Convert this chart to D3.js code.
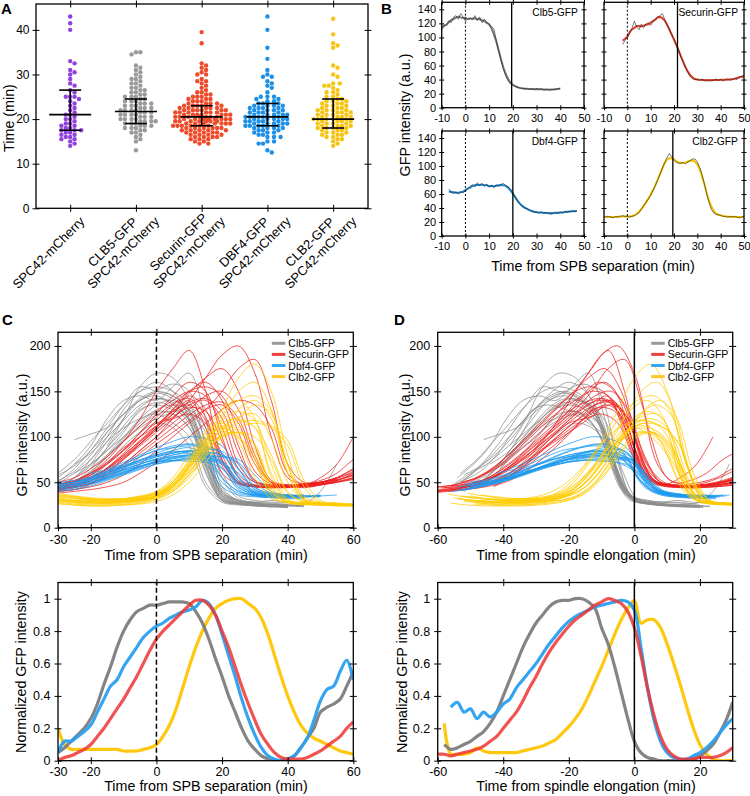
<!DOCTYPE html>
<html><head><meta charset="utf-8">
<script src="https://cdn.jsdelivr.net/npm/d3@7"></script>
<style>body{margin:0;background:#fff}</style>
</head><body><svg id="c" width="750" height="796"></svg>
<script>
// ================= DATA =================
// Panel A
const catLabels=[["SPC42-mCherry"],["CLB5-GFP","SPC42-mCherry"],["Securin-GFP","SPC42-mCherry"],["DBF4-GFP","SPC42-mCherry"],["CLB2-GFP","SPC42-mCherry"]];
const catColors=["#9142dc","#9a9a9a","#ee4b2b","#1c8fe6","#f6c514"];
const medians=[21,21.7,20.5,20.5,20];
const q1=[17.5,19,18.5,18.5,18];
const q3=[26.5,24.5,23,23.5,24.5];
const timesSPC42=[43,41.5,40,33,32.5,31,30.5,30,29,28,27.5,26.5,26,25,25,25,24.5,24,23.5,23,22.5,22,21.5,21,21,20.5,20,20,19.5,19,19,18.5,18.5,18,18,17.5,17.5,17.5,17,17,16.5,16.5,16,16,15.5,15.5,15,14.5,14];
const timesCLB5=[35,35,34.5,32,31.5,31,30.5,30,29.5,29,29,28.5,28,28,27.5,27,27,26.5,26.5,26,26,25.5,25.5,25,25,25,24.5,24.5,24,24,24,23.5,23.5,23.5,23,23,23,22.5,22.5,22.5,22,22,22,22,21.5,21.5,21.5,21,21,21,21,20.5,20.5,20.5,20,20,20,20,19.5,19.5,19.5,19.5,19,19,19,18.5,18.5,18.5,18,18,18,17.5,17.5,17,17,16.5,16,15.5,15,13];
const timesSecurin=[39.5,37,32.5,32,31.5,31,30.5,30,30,29,28.5,28.5,28,27.5,27,26.5,26,26,25.5,25.5,25,25,25,24.5,24.5,24.5,24,24,24,23.5,23.5,23.5,23.5,23,23,23,23,23,22.5,22.5,22.5,22.5,22.5,22,22,22,22,22,22,21.5,21.5,21.5,21.5,21.5,21.5,21,21,21,21,21,21,21,20.5,20.5,20.5,20.5,20.5,20.5,20.5,20,20,20,20,20,20,20,20,19.5,19.5,19.5,19.5,19.5,19.5,19.5,19,19,19,19,19,19,19,18.5,18.5,18.5,18.5,18.5,18.5,18,18,18,18,18,18,17.5,17.5,17.5,17.5,17.5,17,17,17,17,17,16.5,16.5,16.5,16.5,16,16,16,16,15.5,15.5,15.5,15,15,14.5,14.5];
const timesDBF4=[43,40,36,33.5,31,30,29.5,29.5,28.5,28,27.5,27,26,25,25,25,24.5,24.5,24,24,23.5,23.5,23.5,23,23,23,23,22.5,22.5,22.5,22.5,22,22,22,22,21.5,21.5,21.5,21.5,21,21,21,21,21,20.5,20.5,20.5,20.5,20.5,20,20,20,20,20,19.5,19.5,19.5,19.5,19.5,19,19,19,19,19,18.5,18.5,18.5,18.5,18.5,18,18,18,18,17.5,17.5,17.5,17,17,17,16.5,16.5,16,16,16,15,15,14.5,14.5,13,12.5];
const timesCLB2=[42.5,39,37,36.5,36,32,31.5,30,29.5,28,28,27.5,27.5,27,26.5,26,26,25.5,25,25,24.5,24.5,24,24,24,23.5,23.5,23.5,23,23,23,22.5,22.5,22.5,22,22,22,22,21.5,21.5,21.5,21.5,21,21,21,21,20.5,20.5,20.5,20.5,20,20,20,20,20,19.5,19.5,19.5,19.5,19,19,19,19,18.5,18.5,18.5,18.5,18,18,18,18,17.5,17.5,17.5,17,17,17,16.5,16.5,16.5,16,16,15.5,15.5,15,14.5,14];
const timesA=[timesSPC42,timesCLB5,timesSecurin,timesDBF4,timesCLB2];
const yTicksA=[0,10,20,30,40];

// Panel B (single cells, 1-min frames)
const bNames=["Clb5-GFP","Securin-GFP","Dbf4-GFP","Clb2-GFP"];
const bStart=[-10,-2,-7,-10];
const bElong=[19.5,21.5,20,19.5];
const clb5Raw=[110,116,118,124,121,129,131,126,134,129,123,126,128,125,131,124,129,121,126,122,118,116,112,96,80,68,55,45,38,34,32,30,29,28,27,27,27,26,27,26,27,26,27,25,26,26,25,26,26,27,28];
const securinRaw=[90,96,100,106,113,123,115,111,119,114,119,121,117,123,126,129,131,134,126,118,111,104,98,90,82,72,64,56,50,44,41,40,40,39,41,38,39,40,38,39,41,39,40,38,40,41,39,40,42,40,44,45,46];
const dbf4Raw=[67,62,61,63,60,63,62,64,68,71,73,70,76,72,75,71,74,70,72,69,73,71,74,75,72,70,67,62,55,49,45,42,40,39,37,35,34,34,33,34,32,34,33,31,33,34,32,34,33,35,34,35,36,35,36];
const clb2Raw=[28,27,28,27,26,28,27,28,29,28,28,27,28,29,31,33,38,43,48,53,58,65,72,80,88,97,105,112,118,113,108,105,104,104,105,103,106,108,110,110,106,98,88,75,60,48,38,33,31,30,30,28,28,27,28,27,28,27,26,27,28];
const bRaw=[clb5Raw,securinRaw,dbf4Raw,clb2Raw];
const bColors=["#7a7a7a","#e0402a","#1f86d0","#f2c200"];
const bXTicks=[-10,0,10,20,30,40,50];
const bYTicks=[0,20,40,60,80,100,120,140];

// Panels C/D top: individual traces sampled every 5 min (time from SPB separation)
const traceTimes=[-35,-30,-25,-20,-15,-10,-5,0,5,10,15,20,25,30,35,40,45,50,55,60,65];
const n=null;
const clb5Traces=[
[n,n,97,103,110,125,140,150,158,150,90,35,27,25,24,23,n,n,n,n,n],
[n,50,65,85,110,135,155,150,145,130,85,38,28,26,25,24,n,n,n,n,n],
[n,45,55,75,100,130,150,160,150,120,60,30,26,24,23,22,n,n,n,n,n],
[n,55,70,90,120,140,145,140,155,170,120,45,30,27,25,25,24,n,n,n,n],
[n,n,n,60,80,100,120,135,140,125,70,32,27,25,24,24,23,n,n,n,n],
[n,n,60,75,95,110,120,125,115,100,50,30,26,25,24,22,n,n,n,n,n],
[n,48,60,70,85,100,115,130,135,130,110,55,32,28,26,25,25,n,n,n,n],
[n,n,n,70,95,120,140,145,135,120,80,36,30,28,27,26,n,n,n,n,n],
[n,40,50,65,80,95,110,120,125,110,75,38,30,28,30,28,27,n,n,n,n],
[n,n,n,n,90,120,155,170,165,140,95,40,30,27,25,25,n,n,n,n,n],
[n,n,45,55,70,90,105,115,110,90,45,28,25,24,23,n,n,n,n,n,n],
[n,45,55,70,85,105,130,135,130,125,105,60,35,30,28,28,27,40,70,n,n],
[n,52,62,80,105,125,140,148,142,128,78,34,28,26,25,24,n,n,n,n,n],
[n,n,55,68,88,108,128,138,132,115,68,31,26,24,23,23,n,n,n,n,n],
[n,60,75,95,115,135,150,155,150,135,95,40,29,26,25,24,n,n,n,n,n],
[n,n,50,62,78,98,118,128,125,110,62,30,26,25,24,23,n,n,n,n,n],
[n,42,50,62,78,96,112,124,128,120,88,42,30,27,26,25,24,n,n,n,n],
[n,n,n,65,88,112,132,142,138,118,72,33,27,25,24,n,n,n,n,n,n],
[n,58,68,85,105,125,142,150,145,128,82,36,28,26,25,24,24,n,n,n,n],
[n,n,70,82,100,118,135,142,136,118,66,31,27,25,24,23,n,n,n,n,n]];
const clb5Elong=[21,23,20,24,22,19,25,21,22,23,18,26,22,21,23,20,24,21,22,19];
const securinTraces=[
[40,42,45,50,60,75,90,105,120,135,140,120,70,50,47,46,48,50,55,60,n],
[38,40,42,48,58,70,85,100,115,130,145,150,130,80,50,46,44,47,52,58,62],
[42,44,48,58,72,88,100,112,125,140,110,60,48,45,44,45,46,48,50,55,58],
[n,45,47,52,60,70,85,100,120,140,165,190,200,170,100,55,48,50,55,65,72],
[44,45,50,55,65,80,95,110,130,150,160,140,90,52,46,45,47,50,53,57,n],
[n,48,52,60,72,85,100,115,120,125,115,75,50,45,44,44,45,47,50,n,n],
[n,40,42,45,50,58,70,85,100,115,130,150,175,185,140,70,50,52,60,75,85],
[45,47,50,56,65,78,92,108,125,145,130,80,52,47,46,47,48,50,52,n,n],
[42,43,45,48,55,65,78,92,105,118,130,135,115,70,50,47,46,48,52,60,68],
[n,50,55,65,78,95,112,128,140,150,145,110,65,50,46,45,46,50,55,n,n],
[n,38,40,42,45,50,60,72,85,100,115,130,140,135,110,60,48,55,70,100,n],
[46,48,52,60,70,85,105,125,145,160,150,100,55,46,45,45,46,48,50,53,56],
[n,45,50,60,75,95,120,150,175,195,150,75,50,46,45,46,48,50,n,n,n],
[40,42,46,54,66,80,96,112,128,138,142,128,82,52,47,46,47,49,54,62,70],
[41,43,46,52,62,76,92,108,122,132,128,95,58,47,45,45,46,48,51,55,58],
[n,44,47,54,66,82,100,118,135,150,155,145,105,62,48,46,46,48,52,58,64],
[39,41,44,49,57,68,82,96,110,124,135,138,120,75,50,46,45,47,50,54,60],
[n,47,51,58,70,86,104,122,136,142,122,72,50,46,45,45,47,50,53,n,n],
[43,45,48,54,64,78,94,112,130,148,165,175,150,90,52,47,46,49,55,64,74],
[n,n,46,52,62,76,92,110,128,135,118,68,49,45,44,45,46,n,n,n,n]];
const securinElong=[22,27,17,30,24,20,33,19,26,23,36,21,18,25,21,28,27,19,29,18];
const dbf4Traces=[
[n,45,48,52,58,64,70,75,78,80,78,70,45,36,34,33,33,n,n,n,n],
[n,48,50,55,60,66,72,78,82,85,83,80,55,38,35,34,34,35,n,n,n],
[n,n,n,55,60,68,75,80,85,88,80,50,38,35,34,33,n,n,n,n,n],
[n,42,44,48,54,60,66,72,76,80,82,80,70,45,37,35,34,34,n,n,n],
[n,n,50,55,62,70,78,85,90,92,85,55,40,36,35,35,n,n,n,n,n],
[n,44,46,50,56,62,68,72,74,76,75,72,48,38,36,35,36,n,n,n,n],
[n,n,n,n,65,72,80,88,95,100,98,90,65,42,38,36,36,n,n,n,n],
[n,46,48,52,57,63,68,72,74,73,72,65,42,35,33,32,32,n,n,n,n],
[n,n,50,53,58,64,70,75,78,80,80,78,72,50,38,36,35,35,n,n,n],
[n,50,52,56,62,68,74,80,84,82,70,45,36,34,33,33,n,n,n,n,n],
[n,n,n,60,64,70,78,85,88,90,88,82,55,40,37,36,n,n,n,n,n],
[n,40,42,46,52,58,64,70,74,77,78,78,75,58,40,36,35,35,36,n,n],
[n,47,50,54,60,67,74,79,83,84,80,66,44,37,35,34,34,n,n,n,n],
[n,n,46,50,55,61,67,73,77,79,79,74,52,39,36,35,35,36,n,n,n],
[n,43,46,50,55,61,67,72,76,78,77,72,50,38,35,34,34,n,n,n,n],
[n,n,48,52,58,66,74,82,88,92,90,82,56,40,36,35,35,n,n,n,n],
[n,45,47,50,54,59,65,70,73,75,74,70,60,42,36,34,34,35,n,n,n],
[n,n,n,58,62,67,72,78,82,84,78,55,40,36,35,34,n,n,n,n,n],
[n,41,44,48,53,60,67,74,80,84,86,84,64,44,38,36,35,n,n,n,n],
[n,48,50,53,58,64,70,76,80,82,80,72,47,37,35,34,34,n,n,n,n]];
const dbf4Elong=[20,22,18,24,19,21,23,20,25,17,22,26,21,23,21,22,24,18,23,20];
const clb2Traces=[
[n,35,32,30,30,30,32,35,45,65,90,115,120,110,60,30,27,26,26,25,n],
[n,30,28,27,27,28,30,33,40,55,80,105,130,140,120,60,30,26,25,25,25],
[n,n,n,28,28,29,30,34,45,70,100,110,100,75,35,27,25,25,24,24,n],
[n,33,30,28,28,29,31,36,48,68,95,130,165,180,150,80,35,28,27,26,26],
[n,38,35,33,32,32,33,38,50,75,105,130,140,120,55,30,28,27,27,n,n],
[n,28,26,25,25,26,28,32,42,60,85,100,105,90,45,28,26,25,25,25,n],
[n,32,30,29,29,30,32,35,42,58,78,100,120,135,125,70,32,27,26,25,25],
[n,n,30,28,27,28,30,34,45,65,90,120,150,160,130,60,30,27,26,26,n],
[n,36,34,32,31,32,35,40,55,80,105,115,95,55,32,28,27,26,n,n,n],
[n,27,25,24,24,25,26,29,36,50,72,95,110,115,110,90,45,28,26,25,25],
[n,30,29,28,28,29,31,36,50,72,95,110,100,80,40,28,26,25,25,25,24],
[n,34,32,30,30,31,33,38,50,70,90,100,105,100,75,38,29,27,26,25,n],
[n,31,29,28,28,29,31,35,46,66,92,118,128,118,70,32,27,26,25,25,24],
[n,n,33,31,30,31,34,39,52,74,98,112,108,92,48,29,27,26,26,n,n],
[n,29,27,26,26,27,29,33,44,62,86,108,118,110,80,40,28,26,25,24,24],
[n,35,33,31,31,32,34,38,48,66,88,110,122,125,98,50,30,27,26,25,n],
[n,26,25,24,24,25,27,31,40,58,82,102,104,85,42,28,26,25,24,24,24],
[n,32,30,29,28,29,31,36,48,70,96,124,140,145,128,68,32,27,26,25,n],
[n,30,28,27,27,28,30,35,47,68,92,106,98,70,38,28,26,25,25,24,n],
[n,37,34,32,31,31,33,37,46,62,84,104,115,118,112,96,52,30,27,26,25]];
const clb2Elong=[20,22,18,25,21,19,24,23,17,26,20,22,21,19,22,23,19,24,18,27];

// Bottom panels: normalized mean traces
const normTimesC=[-30,-28,-26,-24,-22,-20,-18,-16,-14,-12,-10,-8,-6,-4,-2,0,2,4,6,8,10,12,14,16,18,20,22,24,26,28,30,32,34,36,38,40,42,44,46,48,50,52,54,56,58,60];
const normClb5C=[.05,.08,.12,.16,.2,.26,.35,.47,.58,.7,.8,.87,.92,.94,.96,.96,.97,.98,.98,.98,.97,.92,.85,.75,.63,.52,.4,.3,.2,.12,.07,.03,.01,0,0,.01,.03,.08,.14,.2,.3,.33,.35,.38,.46,.55];
const normSecurinC=[0,.02,.03,.05,.07,.1,.15,.2,.26,.32,.38,.45,.52,.6,.68,.75,.8,.84,.88,.92,.96,.99,.99,.96,.9,.8,.7,.58,.46,.35,.25,.16,.1,.05,.02,.01,.01,.01,.02,.04,.06,.09,.12,.15,.2,.24];
const normDbf4C=[.05,.12,.12,.15,.18,.22,.3,.38,.46,.5,.58,.64,.7,.76,.8,.83,.85,.88,.9,.92,.93,.95,.99,.97,.9,.78,.65,.52,.38,.26,.16,.08,.03,.01,0,.01,.03,.08,.14,.25,.37,.44,.46,.55,.62,.5];
const normClb2C=[.2,.1,.07,.07,.07,.07,.07,.07,.07,.07,.06,.06,.06,.07,.08,.1,.15,.22,.32,.45,.58,.7,.8,.88,.94,.97,.99,1,1,.97,.94,.88,.78,.65,.52,.4,.3,.22,.17,.14,.12,.1,.08,.06,.05,.04];
const normTimesD=[-60,-58,-56,-54,-52,-50,-48,-46,-44,-42,-40,-38,-36,-34,-32,-30,-28,-26,-24,-22,-20,-18,-16,-14,-12,-10,-8,-6,-4,-2,0,2,4,6,8,10,12,14,16,18,20,22,24,26,28,30];
const normClb5D=[n,.1,.07,.08,.1,.12,.15,.18,.23,.3,.4,.5,.6,.7,.78,.85,.9,.95,.98,.99,.99,1,1,.98,.94,.82,.72,.58,.42,.26,.12,.05,.02,.01,0,0,0,0,0,.01,.03,.06,.1,.17,.25,.36];
const normSecurinD=[.04,.04,.03,.04,.05,.06,.07,.09,.12,.15,.2,.25,.3,.37,.45,.52,.6,.67,.73,.78,.83,.87,.9,.93,.96,.98,1,.99,.97,.92,.82,.65,.45,.28,.15,.07,.03,.01,.01,.01,.02,.02,.02,.03,.05,.08];
const normDbf4D=[n,n,.33,.36,.3,.32,.26,.3,.27,.3,.35,.38,.45,.5,.55,.6,.66,.72,.77,.82,.86,.89,.91,.93,.95,.96,.97,.98,.99,.98,.93,.7,.45,.25,.12,.05,.02,.01,.01,.03,.05,.08,.12,.17,.22,.26];
const normClb2D=[n,.23,.04,.04,.04,.05,.08,.06,.05,.05,.05,.05,.05,.06,.07,.08,.09,.11,.13,.17,.21,.26,.32,.4,.49,.58,.68,.78,.87,.94,.99,.85,.87,.87,.82,.72,.6,.47,.33,.2,.1,.04,.01,0,0,0];

const seriesNames=["Clb5-GFP","Securin-GFP","Dbf4-GFP","Clb2-GFP"];
const traceColors=["#8e8e8e","#ee2020","#1e9bef","#ffcc00"];
const legendColors=["#999999","#ee4040","#33a8f0","#ffc826"];
const normColors=["#7d7d7d","#ee3535","#2aa0f0","#ffc400"];

// ================= DRAWING =================
const FONT='"Liberation Sans", Arial, Helvetica, sans-serif';
const svg=d3.select("#c").attr("font-family",FONT);
const defs=svg.append("defs");
let clipId=0;
function clip(x0,y0,x1,y1){const id="cl"+(clipId++);defs.append("clipPath").attr("id",id).append("rect").attr("x",x0).attr("y",y0).attr("width",x1-x0).attr("height",y1-y0);return "url(#"+id+")";}

function axesBox(g,x,y,o){
  const [x0,x1]=x.range(),[yb,yt]=y.range();
  const ts=o.ts||3.5, fs=o.fs||12;
  const mk=(axis,tr,vals,size,fmt,show,pad)=>{
    const a=g.append("g").attr("transform",tr).call(axis.tickValues(vals).tickSizeInner(size).tickSizeOuter(0).tickPadding(pad).tickFormat(show?fmt:()=>""));
    a.select(".domain").remove();
    a.selectAll("line").attr("stroke","#000").attr("stroke-width",1);
    a.selectAll("text").attr("font-size",fs).attr("font-family",FONT).attr("fill","#000");
  };
  const xf=o.xfmt||(d=>d), yf=o.yfmt||(d=>d);
  mk(d3.axisBottom(x),`translate(0,${yb})`,o.xt,ts,xf,o.xlabels!==false,o.xpad||3);
  mk(d3.axisBottom(x),`translate(0,${yb})`,o.xt,-ts,xf,false,2);
  mk(d3.axisTop(x),`translate(0,${yt})`,o.xtTop||o.xt,ts,xf,false,2);
  mk(d3.axisTop(x),`translate(0,${yt})`,o.xtTop||o.xt,-ts,xf,false,2);
  mk(d3.axisLeft(y),`translate(${x0},0)`,o.yt,ts,yf,o.ylabels!==false,o.ypad||3);
  mk(d3.axisLeft(y),`translate(${x0},0)`,o.yt,-ts,yf,false,2);
  mk(d3.axisRight(y),`translate(${x1},0)`,o.yt,ts,yf,false,2);
  mk(d3.axisRight(y),`translate(${x1},0)`,o.yt,-ts,yf,false,2);
  g.append("rect").attr("x",x0).attr("y",yt).attr("width",x1-x0).attr("height",yb-yt).attr("fill","none").attr("stroke","#000").attr("stroke-width",1.3);
}
function letter(t,x,y){svg.append("text").attr("x",x).attr("y",y).text(t).attr("font-size",15).attr("font-weight","bold");}
function ylabel(t,x,y,fs){svg.append("text").attr("transform",`translate(${x},${y}) rotate(-90)`).attr("text-anchor","middle").attr("dominant-baseline","central").attr("font-size",fs||14.3).text(t);}
function xlabel(t,x,y,fs){svg.append("text").attr("x",x).attr("y",y).attr("text-anchor","middle").attr("font-size",fs||14.3).text(t);}

// ---------- Panel A ----------
{
  const g=svg.append("g");
  const x=d3.scaleLinear().domain([0.48,5.53]).range([36,368]);
  const y=d3.scaleLinear().domain([0,45.8]).range([208.3,4]);
  timesA.forEach((vals,ci)=>{
    const cx=x(ci+1), md=4.4, step=2.2, cap=30;
    const pts=vals.map(v=>({v,y:y(v)})).sort((a,b)=>a.y-b.y);
    const placed=[];
    pts.forEach(p=>{
      let best=0,bestD=-1;
      for(let k=0;k<=2*Math.floor(cap/step);k++){
        const off=(k%2?1:-1)*Math.ceil(k/2)*step;
        let minD=Infinity;
        for(const q of placed){const dy=q.y-p.y;if(Math.abs(dy)<md){const d=Math.hypot(q.x-(cx+off),dy);if(d<minD)minD=d;}}
        if(minD>=md){best=off;bestD=minD;break;}
        if(minD>bestD){bestD=minD;best=off;}
      }
      p.x=cx+best;placed.push(p);
    });
    g.append("g").selectAll("circle").data(placed).join("circle").attr("cx",d=>d.x).attr("cy",d=>d.y).attr("r",2.2).attr("fill",catColors[ci]);
  });
  medians.forEach((m,ci)=>{
    const cx=x(ci+1);
    const eg=g.append("g").attr("stroke","#000").attr("stroke-width",1.6);
    eg.append("line").attr("x1",cx-21).attr("x2",cx+21).attr("y1",y(m)).attr("y2",y(m));
    eg.append("line").attr("x1",cx).attr("x2",cx).attr("y1",y(q1[ci])).attr("y2",y(q3[ci]));
    eg.append("line").attr("x1",cx-11).attr("x2",cx+11).attr("y1",y(q1[ci])).attr("y2",y(q1[ci]));
    eg.append("line").attr("x1",cx-11).attr("x2",cx+11).attr("y1",y(q3[ci])).attr("y2",y(q3[ci]));
  });
  axesBox(g,x,y,{xt:[1,2,3,4,5],yt:yTicksA,xlabels:false,fs:12});
  catLabels.forEach((lines,i)=>{
    const cx=x(i+1), k=lines.length;
    const lg=g.append("g").attr("transform",`translate(${cx+12+3.7*(k-1)},${219-5.3*(k-1)}) rotate(-45)`);
    const ts=lines.map((s,j)=>lg.append("text").text(s).attr("font-size",13).attr("text-anchor","middle").attr("dominant-baseline","central").attr("y",(j-(k-1)/2)*15));
    const Wd=d3.max(ts,t=>t.node().getComputedTextLength());
    ts.forEach(t=>t.attr("x",-Wd/2));
  });
  ylabel("Time (min)",9,118);
  letter("A",1,14);
}

// ---------- Panel B ----------
{
  const boxes=[[441.7,584,107.7,2.3],[604,744,107.7,2.3],[441.7,584,236,131],[604,744,236,131]];
  bRaw.forEach((raw,i)=>{
    const [x0,x1,yb,yt]=boxes[i];
    const g=svg.append("g");
    const x=d3.scaleLinear().domain([-10,50]).range([x0,x1]);
    const y=d3.scaleLinear().domain([0,150]).range([yb,yt]);
    const pts=raw.map((v,j)=>({t:bStart[i]+j,v}));
    const sm=pts.map((p,j)=>{const w=pts.slice(Math.max(0,j-2),Math.min(pts.length,j+3));return {t:p.t,v:d3.mean(w,d=>d.v)};});
    const line=d3.line().x(d=>x(d.t)).y(d=>y(d.v));
    const cg=g.append("g").attr("clip-path",clip(x0,yt,x1,yb));
    cg.append("path").attr("d",line(sm)).attr("fill","none").attr("stroke",bColors[i]).attr("stroke-width",2);
    cg.append("path").attr("d",line(pts)).attr("fill","none").attr("stroke","#222").attr("stroke-width",0.7).attr("opacity",0.85);
    g.append("line").attr("x1",x(0)).attr("x2",x(0)).attr("y1",yb).attr("y2",yt).attr("stroke","#000").attr("stroke-width",1).attr("stroke-dasharray","2,2");
    g.append("line").attr("x1",x(bElong[i])).attr("x2",x(bElong[i])).attr("y1",yb).attr("y2",yt).attr("stroke","#000").attr("stroke-width",1.3);
    axesBox(g,x,y,{xt:bXTicks,yt:bYTicks,ylabels:(i%2===0),fs:11,ts:2.5,xpad:4,ypad:3});
    g.append("text").attr("x",x1-6).attr("y",yt+14).attr("text-anchor","end").attr("font-size",10.3).text(bNames[i]);
  });
  ylabel("GFP intensity (a.u.)",405,115);
  xlabel("Time from SPB separation (min)",593,271);
  letter("B",381,14);
}

// ---------- Panels C / D top ----------
const allTraces=[clb5Traces,securinTraces,dbf4Traces,clb2Traces];
const allElong=[clb5Elong,securinElong,dbf4Elong,clb2Elong];
function topPanel(x0,x1,dom,xt,xtTop,shift,vstyle){
  const g=svg.append("g");
  const x=d3.scaleLinear().domain(dom).range([x0,x1]);
  const y=d3.scaleLinear().domain([0,215]).range([527.7,332.3]);
  const cg=g.append("g").attr("clip-path",clip(x0,332.3,x1,527.7));
  allTraces.forEach((trs,si)=>{
    trs.forEach((tr,ti)=>{
      const off=shift?allElong[si][ti]:0;
      const pts=tr.map((v,k)=>({t:traceTimes[k]-off,v}));
      const line=d3.line().defined(d=>d.v!=null).x(d=>x(d.t)).y(d=>y(d.v)).curve(d3.curveCatmullRom.alpha(0.5));
      cg.append("path").attr("d",line(pts)).attr("fill","none").attr("stroke",traceColors[si]).attr("stroke-width",0.9).attr("opacity",0.85);
    });
  });
  g.append("line").attr("x1",x(0)).attr("x2",x(0)).attr("y1",527.7).attr("y2",332.3).attr("stroke","#000").attr("stroke-width",1.5).attr("stroke-dasharray",vstyle);
  axesBox(g,x,y,{xt:xt,xtTop:xtTop,yt:[0,50,100,150,200],fs:12.5,xpad:4,ypad:4});
  const lx=x1-81.5;
  seriesNames.forEach((s,i)=>{
    const ly=343.3+i*11.1;
    g.append("line").attr("x1",lx).attr("x2",lx+13.5).attr("y1",ly).attr("y2",ly).attr("stroke",legendColors[i]).attr("stroke-width",3);
    g.append("text").attr("x",lx+16.5).attr("y",ly).attr("dominant-baseline","central").attr("font-size",10.5).text(s);
  });
}
topPanel(58,353.3,[-30,60],[-30,-20,0,20,40,60],[-20,0,20,40],false,"5,3");
topPanel(437.7,732.7,[-60,30],[-60,-40,-20,0,20],[-40,-20,0,20],true,null);
letter("C",2,325);
letter("D",394,325);
ylabel("GFP intensity (a.u.)",22,435);
ylabel("GFP intensity (a.u.)",405,435);
xlabel("Time from SPB separation (min)",206,560);
xlabel("Time from spindle elongation (min)",586,560);

// ---------- Bottom panels ----------
function normPanel(x0,x1,dom,xt,xtTop,times,series,vstyle){
  const g=svg.append("g");
  const x=d3.scaleLinear().domain(dom).range([x0,x1]);
  const y=d3.scaleLinear().domain([0,1.1]).range([760.7,582.5]);
  const cg=g.append("g").attr("clip-path",clip(x0,582.5,x1,760.7));
  const line=d3.line().defined(d=>d.v!=null).x(d=>x(d.t)).y(d=>y(d.v)).curve(d3.curveCatmullRom.alpha(0.5));
  const order=[3,0,2,1];
  order.forEach(si=>{
    const pts=series[si].map((v,k)=>({t:times[k],v}));
    cg.append("path").attr("d",line(pts)).attr("fill","none").attr("stroke",normColors[si]).attr("stroke-width",3.2).attr("opacity",si===1?0.85:0.95).attr("stroke-linejoin","round");
  });
  g.append("line").attr("x1",x(0)).attr("x2",x(0)).attr("y1",760.7).attr("y2",582.5).attr("stroke","#000").attr("stroke-width",1.5).attr("stroke-dasharray",vstyle);
  axesBox(g,x,y,{xt:xt,xtTop:xtTop,yt:[0,0.2,0.4,0.6,0.8,1],fs:12.5,yfmt:d=>String(d),xpad:3,ypad:4});
}
normPanel(58,353.3,[-30,60],[-30,-20,0,20,40,60],[-20,0,20,40],normTimesC,[normClb5C,normSecurinC,normDbf4C,normClb2C],"5,3");
normPanel(437.7,732.7,[-60,30],[-60,-40,-20,0,20],[-40,-20,0,20],normTimesD,[normClb5D,normSecurinD,normDbf4D,normClb2D],null);
ylabel("Normalized GFP intensity",21,672);
ylabel("Normalized GFP intensity",402,672);
xlabel("Time from SPB separation (min)",206,791);
xlabel("Time from spindle elongation (min)",586,791);
</script></body></html>
